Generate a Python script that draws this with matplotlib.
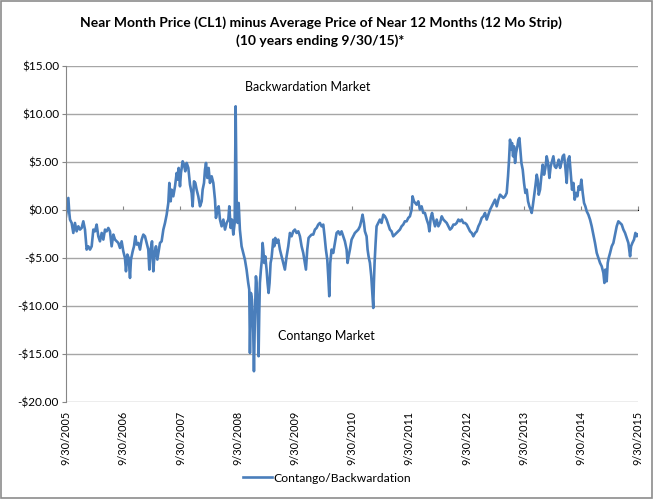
import matplotlib
matplotlib.use("Agg")
import matplotlib.pyplot as plt
from matplotlib.patches import Rectangle
from matplotlib.lines import Line2D

# Years elapsed since 9/30/2005
years = [
    0.000, 0.023, 0.041, 0.058, 0.070, 0.099, 0.128, 0.157, 0.186, 0.216, 0.245, 0.274, 0.303, 0.332,
    0.361, 0.390, 0.420, 0.449, 0.478, 0.507, 0.536, 0.565, 0.594, 0.624, 0.653, 0.682, 0.711, 0.740,
    0.769, 0.798, 0.828, 0.857, 0.886, 0.915, 0.944, 0.973, 1.002, 1.031, 1.049, 1.072, 1.096, 1.119,
    1.136, 1.166, 1.189, 1.212, 1.235, 1.265, 1.294, 1.323, 1.352, 1.381, 1.410, 1.439, 1.457, 1.480,
    1.504, 1.527, 1.550, 1.573, 1.597, 1.620, 1.643, 1.672, 1.702, 1.731, 1.760, 1.789, 1.807, 1.830,
    1.847, 1.876, 1.906, 1.935, 1.952, 1.970, 1.993, 2.010, 2.040, 2.063, 2.086, 2.110, 2.139, 2.168,
    2.197, 2.214, 2.238, 2.261, 2.284, 2.313, 2.343, 2.372, 2.389, 2.413, 2.430, 2.448, 2.471, 2.494,
    2.517, 2.547, 2.576, 2.605, 2.622, 2.646, 2.669, 2.692, 2.721, 2.751, 2.780, 2.809, 2.838, 2.855,
    2.879, 2.902, 2.925, 2.949, 2.966, 2.984, 3.001, 3.019, 3.040, 3.070, 3.099, 3.128, 3.157, 3.186,
    3.204, 3.216, 3.233, 3.251, 3.274, 3.286, 3.303, 3.321, 3.332, 3.350, 3.367, 3.379, 3.390, 3.408,
    3.425, 3.437, 3.449, 3.466, 3.484, 3.507, 3.524, 3.542, 3.559, 3.577, 3.594, 3.624, 3.641, 3.659,
    3.682, 3.711, 3.740, 3.769, 3.798, 3.827, 3.857, 3.886, 3.915, 3.944, 3.973, 4.002, 4.031, 4.061,
    4.090, 4.119, 4.148, 4.177, 4.195, 4.218, 4.241, 4.265, 4.294, 4.323, 4.352, 4.381, 4.410, 4.439,
    4.469, 4.498, 4.521, 4.544, 4.568, 4.585, 4.603, 4.620, 4.643, 4.672, 4.702, 4.731, 4.760, 4.789,
    4.818, 4.847, 4.876, 4.906, 4.923, 4.941, 4.964, 4.993, 5.022, 5.051, 5.080, 5.110, 5.139, 5.168,
    5.185, 5.209, 5.226, 5.255, 5.273, 5.290, 5.314, 5.337, 5.360, 5.372, 5.383, 5.395, 5.413, 5.430,
    5.459, 5.488, 5.517, 5.547, 5.576, 5.605, 5.634, 5.663, 5.692, 5.721, 5.751, 5.780, 5.809, 5.838,
    5.867, 5.896, 5.925, 5.955, 5.984, 6.013, 6.042, 6.059, 6.083, 6.106, 6.129, 6.159, 6.188, 6.217,
    6.246, 6.275, 6.307, 6.336, 6.353, 6.376, 6.400, 6.423, 6.452, 6.481, 6.510, 6.540, 6.569, 6.598,
    6.627, 6.656, 6.685, 6.714, 6.744, 6.773, 6.802, 6.831, 6.860, 6.889, 6.918, 6.948, 6.977, 7.006,
    7.035, 7.064, 7.093, 7.122, 7.152, 7.181, 7.210, 7.239, 7.268, 7.297, 7.326, 7.355, 7.385, 7.414,
    7.443, 7.472, 7.501, 7.530, 7.559, 7.589, 7.618, 7.647, 7.676, 7.705, 7.728, 7.746, 7.763, 7.781,
    7.798, 7.816, 7.833, 7.851, 7.868, 7.892, 7.909, 7.927, 7.944, 7.962, 7.985, 8.008, 8.031, 8.055,
    8.078, 8.101, 8.125, 8.142, 8.160, 8.183, 8.206, 8.230, 8.247, 8.265, 8.288, 8.311, 8.334, 8.358,
    8.381, 8.404, 8.428, 8.451, 8.474, 8.498, 8.521, 8.544, 8.568, 8.591, 8.614, 8.638, 8.661, 8.684,
    8.707, 8.731, 8.754, 8.777, 8.801, 8.824, 8.847, 8.871, 8.894, 8.917, 8.941, 8.964, 8.987, 9.010,
    9.034, 9.057, 9.080, 9.104, 9.133, 9.162, 9.191, 9.220, 9.249, 9.279, 9.308, 9.337, 9.366, 9.395,
    9.413, 9.430, 9.453, 9.471, 9.488, 9.512, 9.541, 9.570, 9.599, 9.628, 9.657, 9.686, 9.716, 9.745,
    9.774, 9.803, 9.832, 9.862, 9.879, 9.902, 9.931, 9.955, 9.978, 9.995,
]

# Near month minus 12-month strip average ($)
spread = [
    -0.66, 0.38, 1.25, -0.31, -1.00, -1.35, -2.39, -1.35, -2.22, -1.70, -2.04, -1.87, -1.18, -2.04,
    -4.12, -3.78, -4.12, -3.78, -2.04, -2.22, -1.52, -2.74, -3.26, -2.39, -3.08, -2.04, -2.22, -1.87,
    -2.22, -3.78, -2.56, -3.08, -3.26, -3.43, -3.95, -3.26, -4.30, -4.99, -6.38, -4.64, -4.99, -7.07,
    -5.16, -4.30, -3.78, -2.74, -3.60, -3.43, -4.12, -3.08, -2.56, -2.74, -3.43, -4.12, -6.20, -4.12,
    -3.26, -6.38, -4.47, -3.78, -5.16, -4.30, -3.43, -3.26, -2.04, -1.35, -0.49, 0.73, 2.81, 0.90,
    2.11, 1.42, 2.46, 3.85, 3.15, 4.37, 2.46, 3.85, 5.06, 4.71, 4.02, 4.89, 4.37, 2.63,
    1.77, 0.38, 2.98, 2.81, 2.11, 1.42, 0.38, 0.90, 2.11, 2.81, 4.19, 4.89, 3.33, 4.37,
    2.81, 3.50, 2.81, 1.07, -0.83, 0.03, 0.38, -1.00, -1.70, -1.00, -2.04, -1.35, -1.00, 0.38,
    -1.87, -1.00, -2.56, -1.35, 10.78, 0.73, -1.35, 0.73, -2.04, -3.78, -4.47, -5.16, -6.20, -7.59,
    -8.28, -14.87, -8.63, -9.32, -12.79, -16.77, -11.05, -6.90, -7.59, -10.36, -15.21, -10.71, -7.59, -6.20,
    -5.16, -3.43, -4.12, -5.51, -4.82, -6.20, -7.59, -8.63, -7.59, -5.51, -4.99, -3.08, -3.78, -2.91,
    -3.43, -3.08, -4.12, -4.82, -5.51, -6.20, -4.82, -3.78, -2.39, -2.74, -2.22, -2.04, -2.39, -2.22,
    -2.74, -3.78, -4.47, -5.51, -6.20, -4.12, -2.91, -2.74, -2.56, -2.56, -2.04, -1.87, -1.52, -1.35,
    -1.70, -1.52, -2.74, -4.12, -5.16, -6.90, -8.97, -5.51, -4.12, -4.47, -3.43, -2.39, -2.22, -2.56,
    -2.22, -2.74, -3.26, -4.12, -5.51, -4.82, -4.12, -3.08, -2.74, -2.39, -2.22, -2.04, -1.70, -1.00,
    -0.49, -1.35, -2.22, -2.74, -4.12, -4.82, -5.51, -6.90, -8.97, -10.19, -7.59, -5.51, -3.43, -1.70,
    -1.35, -1.00, -1.35, -0.49, -0.66, -1.00, -1.52, -2.04, -2.22, -2.74, -2.56, -2.39, -2.22, -2.04,
    -1.70, -1.52, -1.18, -1.18, -0.83, -0.66, 0.03, 1.42, 0.90, 0.73, 0.55, 0.90, 0.03, 0.38,
    -0.31, -0.31, -1.00, -1.52, -2.22, -0.83, -0.31, -1.00, -1.70, -1.00, -1.70, -1.35, -0.66, -1.00,
    -1.18, -1.35, -1.70, -2.04, -1.87, -1.52, -1.52, -1.35, -1.00, -1.18, -1.00, -1.35, -1.35, -1.52,
    -1.87, -2.22, -2.39, -2.74, -2.39, -2.22, -1.70, -1.35, -0.83, -0.66, -0.31, -1.00, -0.49, 0.03,
    0.38, 0.73, 1.07, 0.38, 1.07, 1.59, 1.42, 1.25, 1.42, 1.77, 3.50, 5.23, 7.31, 6.27,
    6.96, 5.58, 6.62, 4.89, 5.93, 6.62, 7.31, 7.48, 6.27, 4.89, 4.19, 2.81, 1.77, 2.11,
    0.90, 0.38, 0.03, -0.31, 0.38, 1.42, 2.46, 3.67, 3.15, 1.59, 2.11, 3.50, 4.71, 3.67,
    4.37, 5.58, 4.89, 3.33, 4.54, 5.06, 5.58, 4.54, 4.37, 4.71, 5.23, 4.37, 4.89, 5.58,
    5.75, 4.37, 2.81, 5.23, 5.58, 3.85, 2.11, 2.81, 1.07, 1.77, 1.42, 2.46, 2.11, 3.15,
    1.77, 0.73, 0.38, -0.14, -0.49, -1.00, -1.70, -2.56, -3.43, -4.47, -4.99, -5.51, -5.86, -6.55,
    -7.59, -6.20, -7.42, -5.51, -4.99, -4.47, -3.78, -3.43, -2.56, -1.70, -1.18, -1.35, -1.52, -2.04,
    -2.39, -2.91, -3.43, -4.82, -3.78, -3.43, -3.08, -2.39, -2.74, -2.56,
]

tick_labels = ["9/30/2005", "9/30/2006", "9/30/2007", "9/30/2008", "9/30/2009", "9/30/2010",
               "9/30/2011", "9/30/2012", "9/30/2013", "9/30/2014", "9/30/2015"]
y_ticks = [15, 10, 5, 0, -5, -10, -15, -20]

title = "Near Month Price (CL1) minus Average Price of Near 12 Months (12 Mo Strip)\n(10 years ending 9/30/15)*"
series_name = "Contango/Backwardation"

FONT = ["Lato", "DejaVu Sans"]
plt.rcParams["font.family"] = FONT

fig = plt.figure(figsize=(6.54, 4.99), dpi=100)
ax = fig.add_axes([0.1009, 0.1938, 0.8746, 0.6745])

line_color = "#4A7EBB"
grid_color = "#A6A6A6"

ax.plot(years, spread, color=line_color, lw=1.9, solid_joinstyle="round")

ymin, ymax = -20, 15
ax.set_ylim(ymin, ymax)
ax.set_xlim(0, len(tick_labels) - 1)
ax.set_yticks(y_ticks)
ax.set_yticklabels([("-$%.2f" % abs(v)) if v < 0 else ("$%.2f" % v) for v in y_ticks], fontsize=8.5)
ax.set_xticks(range(len(tick_labels)))
ax.set_xticklabels(tick_labels, rotation=90, fontsize=7.8, va="top")

ax.grid(axis="y", color=grid_color, lw=1)
ax.set_axisbelow(True)
for s in ["top", "right", "bottom"]:
    ax.spines[s].set_visible(False)
ax.spines["left"].set_color("#868686")
ax.tick_params(axis="y", direction="out", length=3, color="#868686", pad=2)
ax.tick_params(axis="x", length=0, pad=6)

# Category axis crossing at $0 with small tick marks
sec = ax.secondary_xaxis((0 - ymin) / (ymax - ymin))
sec.set_xticks(range(len(tick_labels)))
sec.set_xticklabels([])
sec.spines["bottom"].set_visible(False)
sec.tick_params(axis="x", direction="out", length=3, color="#868686")

ax.text(3.13, 12.8, "Backwardation Market", fontsize=9, va="center", ha="left")
ax.text(3.71, -13.1, "Contango Market", fontsize=9, va="center", ha="left")

fig.text(0.49, 0.937, title, ha="center", va="center", fontsize=10, fontweight="bold", linespacing=1.5)

handle = Line2D([], [], color=line_color, lw=1.9)
fig.legend([handle], [series_name], loc="center", bbox_to_anchor=(0.5, 0.042),
           frameon=False, fontsize=8.7, handlelength=2.45, handletextpad=0.1)

fig.patches.append(Rectangle((0.002, 0.002), 0.995, 0.995, transform=fig.transFigure,
                             fill=False, edgecolor="#8C8C8C", lw=1.2))

fig.savefig("out.png", dpi=100)
